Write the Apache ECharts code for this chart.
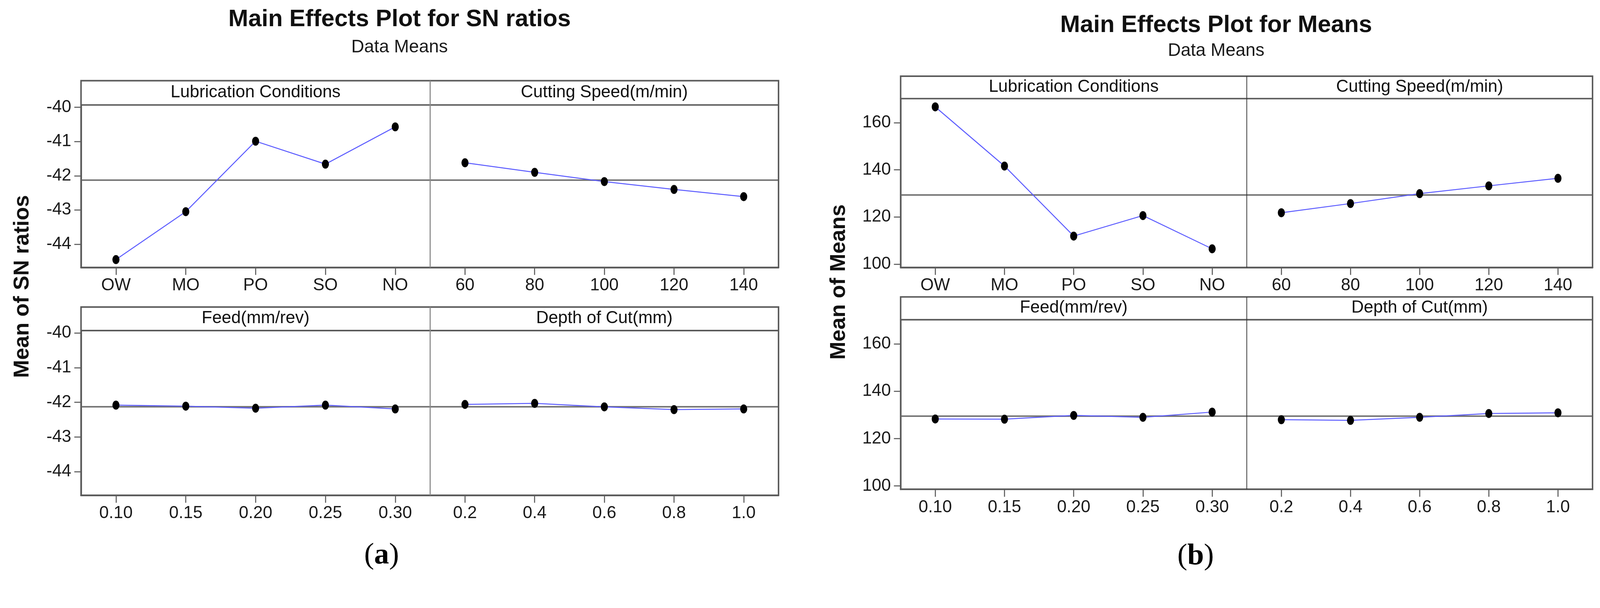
<!DOCTYPE html>
<html>
<head>
<meta charset="utf-8">
<script src="https://cdn.jsdelivr.net/npm/echarts@6/dist/echarts.min.js"></script>
<style>
html,body{margin:0;padding:0;background:#fff;overflow:hidden;}
#chart{width:100vw;height:100vh;}
</style>
</head>
<body>
<div id="chart"></div>
<script>
// ---------- data ----------
const lubCats   = ['OW', 'MO', 'PO', 'SO', 'NO'];
const speedCats = ['60', '80', '100', '120', '140'];
const feedCats  = ['0.10', '0.15', '0.20', '0.25', '0.30'];
const depthCats = ['0.2', '0.4', '0.6', '0.8', '1.0'];

const panelTitles = ['Lubrication Conditions', 'Cutting Speed(m/min)', 'Feed(mm/rev)', 'Depth of Cut(mm)'];

const snLub   = [-44.45, -43.05, -40.99, -41.66, -40.57];
const snSpeed = [-41.62, -41.90, -42.17, -42.40, -42.61];
const snFeed  = [-42.08, -42.11, -42.17, -42.08, -42.19];
const snDepth = [-42.06, -42.03, -42.13, -42.21, -42.19];
const snGrandMean = -42.13;
const snTicks = [-44, -43, -42, -41, -40];
const snRange = [-44.68, -39.93];

const meanLub   = [166.7, 141.6, 111.9, 120.6, 106.5];
const meanSpeed = [121.8, 125.7, 129.9, 133.2, 136.4];
const meanFeed  = [128.3, 128.2, 129.8, 129.0, 131.2];
const meanDepth = [128.0, 127.7, 129.0, 130.6, 130.9];
const meanGrandMean = 129.45;
const meanTicks = [100, 120, 140, 160];
const meanRange = [98.6, 170.2];

// ---------- layout (designed for 4285 x 1556, scaled to the viewport) ----------
const el = document.getElementById('chart');
const S = Math.min(el.clientWidth / 4285, el.clientHeight / 1556);
const p = function (v) { return v * S; };
const FONT = 'Liberation Sans';
const charts = [
  {
    title: 'Main Effects Plot for SN ratios', sub: 'Data Means', yName: 'Mean of SN ratios', tag: 'a',
    L: 217, M: 1152, R: 2085,
    rows: [{st: 216, sb: 281, pb: 716}, {st: 822, sb: 885, pb: 1326}],
    titlePos: {x: 1070, top: 19, gap: 17}, yNamePos: {x: 60, y: 767}, tagPos: {x: 1022, y: 1488},
    dividerColor: '#8a8a8a', dividerWidth: 3,
    series: [snLub, snSpeed, snFeed, snDepth], cats: [lubCats, speedCats, feedCats, depthCats],
    ref: snGrandMean, ticks: snTicks, range: snRange
  },
  {
    title: 'Main Effects Plot for Means', sub: 'Data Means', yName: 'Mean of Means', tag: 'b',
    L: 2412, M: 3339, R: 4265,
    rows: [{st: 204, sb: 264, pb: 716}, {st: 795, sb: 856, pb: 1310}],
    titlePos: {x: 3257, top: 35, gap: 10}, yNamePos: {x: 2247, y: 755}, tagPos: {x: 3202, y: 1490},
    dividerColor: '#333', dividerWidth: 2,
    series: [meanLub, meanSpeed, meanFeed, meanDepth], cats: [lubCats, speedCats, feedCats, depthCats],
    ref: meanGrandMean, ticks: meanTicks, range: meanRange
  }
];

const grids = [], xAxes = [], yAxes = [], seriesList = [], graphics = [], titles = [];
const frameColor = '#5a5a5a';

charts.forEach(function (c) {
  titles.push({
    text: c.title, subtext: c.sub, left: p(c.titlePos.x), top: p(c.titlePos.top), textAlign: 'center',
    itemGap: p(c.titlePos.gap), padding: 0,
    textStyle: {fontFamily: FONT, fontSize: p(64), fontWeight: 'bold', color: '#111', lineHeight: p(66)},
    subtextStyle: {fontFamily: FONT, fontSize: p(48), color: '#1a1a1a', lineHeight: p(50)}
  });
  c.rows.forEach(function (r, ri) {
    graphics.push({type: 'rect', silent: true, z: 10,
      shape: {x: p(c.L), y: p(r.st), width: p(c.R - c.L), height: p(r.pb - r.st)},
      style: {fill: null, stroke: frameColor, lineWidth: p(4)}});
    graphics.push({type: 'line', silent: true, z: 10,
      shape: {x1: p(c.L), y1: p(r.sb), x2: p(c.R), y2: p(r.sb)},
      style: {stroke: frameColor, lineWidth: p(4)}});
    graphics.push({type: 'line', silent: true, z: 10,
      shape: {x1: p(c.M), y1: p(r.st), x2: p(c.M), y2: p(r.pb)},
      style: {stroke: c.dividerColor, lineWidth: p(c.dividerWidth)}});
    [0, 1].forEach(function (ci) {
      const idx = ri * 2 + ci;
      const left = ci === 0 ? c.L : c.M;
      const right = ci === 0 ? c.M : c.R;
      graphics.push({type: 'text', silent: true, z: 11,
        x: p((left + right) / 2), y: p((r.st + r.sb) / 2 - 1),
        style: {text: panelTitles[idx], fontFamily: FONT, fontSize: p(46), fill: '#111',
          align: 'center', verticalAlign: 'middle', textAlign: 'center', textVerticalAlign: 'middle'}});
      const g = grids.length;
      grids.push({left: p(left), top: p(r.sb), width: p(right - left), height: p(r.pb - r.sb), containLabel: false});
      xAxes.push({
        type: 'category', gridIndex: g, data: c.cats[idx], boundaryGap: true,
        axisLine: {show: true, lineStyle: {color: frameColor, width: p(4)}},
        axisTick: {show: true, alignWithLabel: true, length: p(20), lineStyle: {color: '#666', width: p(3)}},
        axisLabel: {show: true, interval: 0, margin: p(26), fontFamily: FONT, fontSize: p(46), color: '#1a1a1a'},
        splitLine: {show: false}
      });
      const showY = ci === 0;
      yAxes.push({
        type: 'value', gridIndex: g, min: c.range[0], max: c.range[1],
        axisLine: {show: showY, lineStyle: {color: frameColor, width: p(4)}},
        axisTick: {show: showY, length: p(18), lineStyle: {color: '#666', width: p(3)}, customValues: c.ticks},
        axisLabel: {show: showY, margin: p(26), fontFamily: FONT, fontSize: p(46), color: '#1a1a1a', customValues: c.ticks},
        splitLine: {show: false}
      });
      seriesList.push({
        type: 'line', xAxisIndex: g, yAxisIndex: g, data: c.series[idx],
        symbol: 'circle', symbolSize: [p(19), p(24)], z: 5,
        itemStyle: {color: '#000'},
        lineStyle: {color: '#5a5aff', width: p(2.6)},
        markLine: {silent: true, symbol: 'none', label: {show: false}, z: 3,
          lineStyle: {color: '#777', width: p(4), type: 'solid'},
          data: [{yAxis: c.ref}]}
      });
    });
  });
  graphics.push({type: 'text', silent: true, z: 11, x: p(c.yNamePos.x), y: p(c.yNamePos.y), rotation: Math.PI / 2,
    style: {text: c.yName, fontFamily: FONT, fontSize: p(58), fontWeight: 'bold', fill: '#111',
      align: 'center', verticalAlign: 'middle', textAlign: 'center', textVerticalAlign: 'middle'}});
  graphics.push({type: 'text', silent: true, z: 11, x: p(c.tagPos.x), y: p(c.tagPos.y),
    style: {text: '{p|(}{b|' + c.tag + '}{p|)}', align: 'center', verticalAlign: 'middle',
      textAlign: 'center', textVerticalAlign: 'middle',
      rich: {p: {fontFamily: 'Liberation Serif', fontSize: p(80), fill: '#000', color: '#000'},
             b: {fontFamily: 'Liberation Serif', fontSize: p(80), fontWeight: 'bold', fill: '#000', color: '#000'}}}});
});

const chart = echarts.init(el);
chart.setOption({
  backgroundColor: '#fff',
  animation: false,
  title: titles,
  grid: grids,
  xAxis: xAxes,
  yAxis: yAxes,
  series: seriesList,
  graphic: {elements: graphics}
});
</script>
</body>
</html>
